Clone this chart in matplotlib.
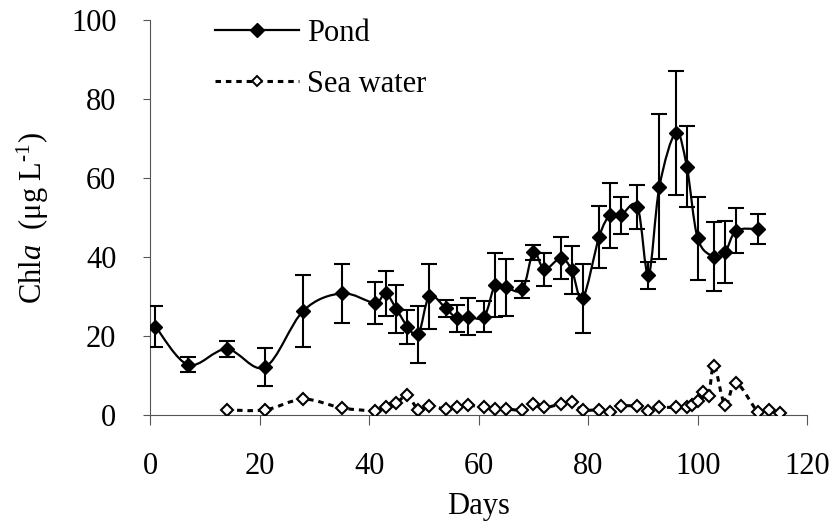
import numpy as np
import matplotlib.pyplot as plt
from matplotlib.path import Path
from matplotlib.patches import PathPatch
from matplotlib.lines import Line2D

# ----------------------
# Data
# ----------------------
pond_days = [1, 7, 14, 21, 28, 35, 41, 43, 45, 47, 49, 51, 54, 56, 58, 61, 63, 65, 68,
             70, 72, 75, 77, 79, 82, 84, 86, 89, 91, 93, 96, 98, 100, 103, 105, 107, 111]
pond_chla = [22.4, 12.7, 16.7, 12.1, 26.4, 30.8, 28.4, 30.8, 26.8, 22.4, 20.4, 30.0,
             27.0, 24.5, 24.9, 24.9, 32.9, 32.3, 31.8, 41.2, 36.9, 39.7, 36.7, 29.5,
             45.1, 50.6, 50.6, 52.7, 35.4, 57.8, 71.5, 62.9, 44.7, 40.1, 41.2, 46.6, 47.1]
pond_sd = [5.2, 1.9, 2.0, 4.8, 9.1, 7.4, 5.3, 5.7, 6.0, 4.3, 7.2, 8.3, 2.2, 3.4, 4.6,
           4.0, 8.0, 7.2, 2.1, 1.9, 4.2, 5.3, 6.0, 8.8, 7.9, 8.2, 4.7, 5.6, 3.4, 18.3,
           15.7, 10.2, 10.4, 8.8, 7.9, 5.7, 3.7]

sea_days = [14, 21, 28, 35, 41, 43, 45, 47, 49, 51, 54, 56, 58, 61, 63, 65, 68, 70, 72,
            75, 77, 79, 82, 84, 86, 89, 91, 93, 96, 98, 99, 100, 101, 102, 103, 105,
            107, 111, 113, 115]
sea_chla = [1.3, 1.3, 4.0, 1.8, 1.1, 2.1, 3.0, 5.0, 1.3, 2.3, 1.5, 1.9, 2.5, 1.9, 1.5,
            1.5, 1.3, 2.8, 1.9, 2.8, 3.4, 1.3, 1.3, 0.7, 2.2, 2.2, 1.1, 1.9, 1.9, 1.9,
            2.5, 3.6, 5.7, 4.9, 12.5, 2.5, 8.2, 0.8, 1.3, 0.4]

x_ticks = [0, 20, 40, 60, 80, 100, 120]
y_ticks = [0, 20, 40, 60, 80, 100]

plt.rcParams['font.family'] = ['Liberation Serif', 'DejaVu Serif']
plt.rcParams['mathtext.fontset'] = 'custom'
plt.rcParams['mathtext.rm'] = 'Liberation Serif'
plt.rcParams['mathtext.it'] = 'Liberation Serif:italic'


# smoothed line through the points (cubic Bezier, like a spreadsheet "smoothed line")
def smooth_path(x, y):
    pts = np.column_stack([x, y]).astype(float)
    n = len(pts)
    verts = [pts[0]]
    codes = [Path.MOVETO]
    for i in range(n - 1):
        p0 = pts[max(i - 1, 0)]
        p1 = pts[i]
        p2 = pts[i + 1]
        p3 = pts[min(i + 2, n - 1)]
        verts += [p1 + (p2 - p0) / 6, p2 - (p3 - p1) / 6, p2]
        codes += [Path.CURVE4] * 3
    return Path(verts, codes)


fig = plt.figure(figsize=(8.37, 5.23), dpi=100)
ax = fig.add_axes([0.1792, 0.2065, 0.7853, 0.7553])

axis_col = '#555555'
dots = (0, (1.8, 1.6))

# sea water: dotted smoothed line + open diamonds
ax.add_patch(PathPatch(smooth_path(sea_days, sea_chla), fill=False, edgecolor='black',
                       lw=2.2, linestyle=dots, capstyle='butt', zorder=2))
ax.plot(sea_days, sea_chla, linestyle='none', marker='D', ms=6.6, mfc='white',
        mec='black', mew=1.5, zorder=3)

# pond: error bars, smoothed solid line, filled diamonds
ax.errorbar(pond_days, pond_chla, yerr=pond_sd, fmt='none', ecolor='black',
            elinewidth=1.5, capsize=5.5, capthick=1.5, zorder=4)
ax.add_patch(PathPatch(smooth_path(pond_days, pond_chla), fill=False, edgecolor='black',
                       lw=1.6, zorder=5))
ax.plot(pond_days, pond_chla, linestyle='none', marker='D', ms=7, color='black', zorder=6)

ax.set_xlim(0, 120)
ax.set_ylim(0, 100)
ax.set_xticks(x_ticks)
ax.set_yticks(y_ticks)
ax.tick_params(axis='x', direction='out', length=7.5, width=0.8, color=axis_col,
               pad=19, labelsize=22)
ax.tick_params(axis='y', direction='out', length=5.2, width=0.8, color=axis_col,
               pad=19, labelsize=22)
for side in ['top', 'right']:
    ax.spines[side].set_visible(False)
for side in ['left', 'bottom']:
    ax.spines[side].set_color(axis_col)
    ax.spines[side].set_linewidth(0.8)

ax.set_xlabel('Days', fontsize=22, labelpad=8)
ax.set_ylabel('Chl$\\mathit{a}$  (\u03bcg L$^{\u20101}$)', fontsize=22, labelpad=14)

handles = [
    Line2D([], [], color='black', lw=1.6, marker='D', ms=7),
    Line2D([], [], color='black', lw=2.2, linestyle=dots, dash_capstyle='butt',
           marker='D', ms=5.5, mfc='white', mec='black', mew=1.4),
]
ax.legend(handles, ['Pond', 'Sea water'], loc='upper left',
          bbox_to_anchor=(215 / 837, 1 - 19 / 523), bbox_transform=fig.transFigure,
          frameon=False, fontsize=22, handlelength=2.75, handletextpad=0.25,
          labelspacing=0.72, borderpad=0, borderaxespad=0)

fig.savefig('out.png', dpi=100)
